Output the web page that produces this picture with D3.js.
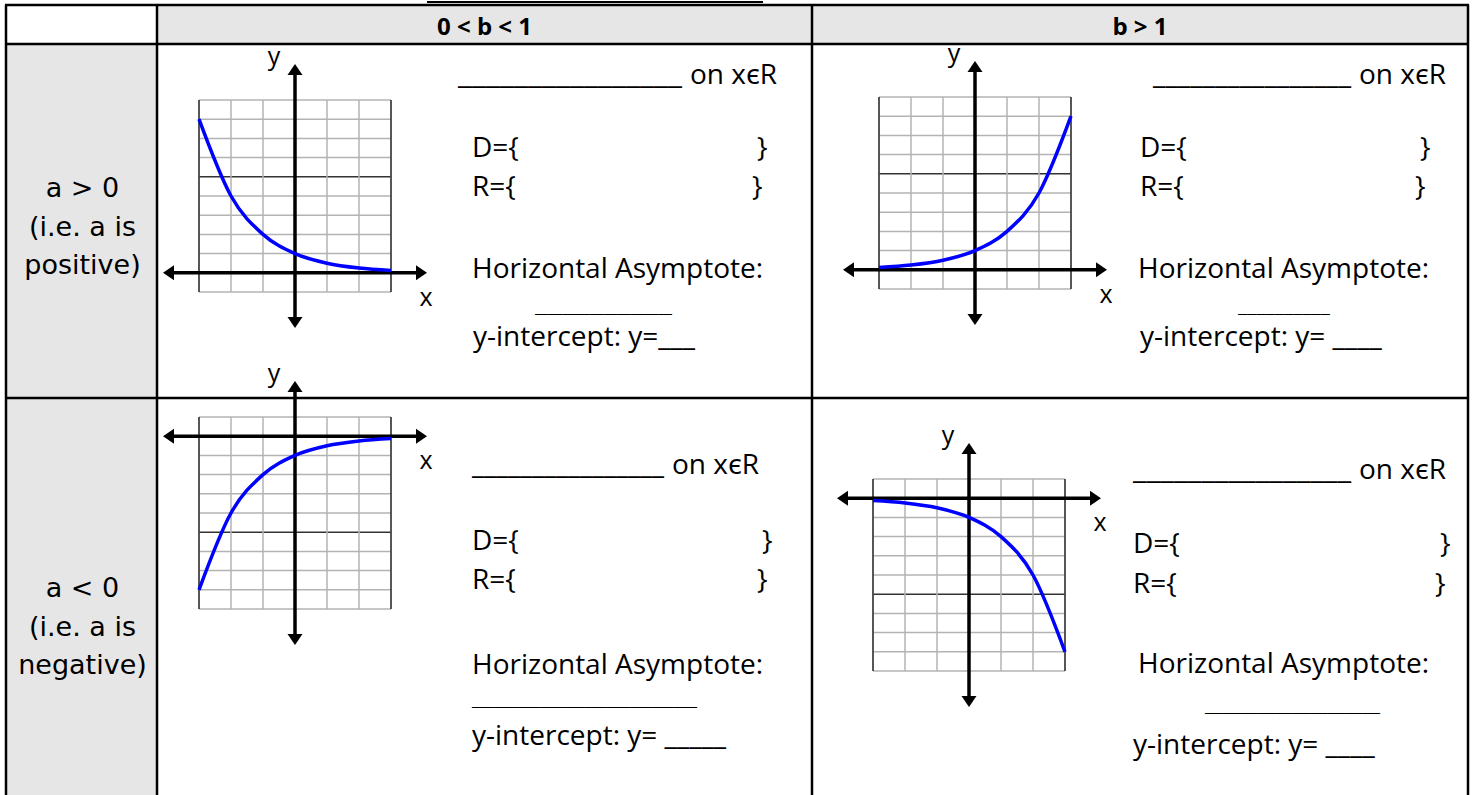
<!DOCTYPE html>
<html>
<head>
<meta charset="utf-8">
<script src="https://cdn.jsdelivr.net/npm/d3@7"></script>
<style>
  body { margin: 0; background: #fff; }
  svg { display: block; font-family: "Open Sans", "Noto Sans", sans-serif; }
</style>
</head>
<body>
<svg id="chart" width="1473" height="795"></svg>
<script>
// table headers
var colHeaders = ["0 < b < 1", "b > 1"];
var rowHeaders = [["a > 0", "(i.e. a is", "positive)"], ["a < 0", "(i.e. a is", "negative)"]];

// points, x = -3 .. 3
var xValues = [-3, -2, -1, 0, 1, 2, 3];
var decayPos = [8, 4, 2, 1, 0.5, 0.25, 0.125];
var growthPos = [0.125, 0.25, 0.5, 1, 2, 4, 8];
var decayNeg = [-8, -4, -2, -1, -0.5, -0.25, -0.125];
var growthNeg = [-0.125, -0.25, -0.5, -1, -2, -4, -8];

// grid window of each row and its darker line
var yWindowPos = [-1, 9];
var yWindowNeg = [-9, 1];
var darkLines = [5, -5];

// prompt texts in every cell
var promptDomain = "D={";
var promptRange = "R={";
var promptClose = "}";
var promptOn = "on x\u03F5R";
var promptAsym = "Horizontal Asymptote:";
var promptIntercepts = ["y-intercept: y=___", "y-intercept: y= ____", "y-intercept: y= _____", "y-intercept: y= ____"];

var svg = d3.select("#chart");

// table frame
var tbl = { left: 6, c1: 157, c2: 812, right: 1468, top: 5, head: 44, mid: 398, bottom: 860 };
var grey = "#e6e6e6";

svg.append("rect").attr("x", tbl.c1).attr("y", tbl.top)
  .attr("width", tbl.right - tbl.c1).attr("height", tbl.head - tbl.top).attr("fill", grey);
svg.append("rect").attr("x", tbl.left).attr("y", tbl.head)
  .attr("width", tbl.c1 - tbl.left).attr("height", tbl.bottom - tbl.head).attr("fill", grey);

var hLines = [tbl.top, tbl.head, tbl.mid, tbl.bottom];
var vLines = [tbl.left, tbl.c1, tbl.c2, tbl.right];
svg.selectAll(".hline").data(hLines).enter().append("line")
  .attr("x1", tbl.left - 1).attr("x2", tbl.right + 1).attr("y1", function (d) { return d; }).attr("y2", function (d) { return d; })
  .attr("stroke", "#000").attr("stroke-width", 2.5);
svg.selectAll(".vline").data(vLines).enter().append("line")
  .attr("y1", tbl.top).attr("y2", tbl.bottom).attr("x1", function (d) { return d; }).attr("x2", function (d) { return d; })
  .attr("stroke", "#000").attr("stroke-width", 2.5);

// bit of the title line above the table
svg.append("line").attr("x1", 427).attr("x2", 763).attr("y1", 2).attr("y2", 2)
  .attr("stroke", "#000").attr("stroke-width", 2);

// column headers
svg.selectAll(".colhead").data(colHeaders).enter().append("text")
  .attr("x", function (d, i) { return i === 0 ? (tbl.c1 + tbl.c2) / 2 : (tbl.c2 + tbl.right) / 2; })
  .attr("y", 35).attr("text-anchor", "middle")
  .attr("font-size", 24).attr("font-weight", "bold").text(function (d) { return d; });

// row headers
var rowTop = [197, 597];
rowHeaders.forEach(function (lines, r) {
  svg.selectAll(".rowhead" + r).data(lines).enter().append("text")
    .attr("x", (tbl.left + tbl.c1) / 2 + 1).attr("y", function (d, i) { return rowTop[r] + i * 38.5; })
    .attr("text-anchor", "middle").attr("font-family", "'DejaVu Sans', Verdana, sans-serif")
    .attr("font-size", 27).text(function (d) { return d; });
});

// little exponential graphs
function drawGraph(box, yWindow, values, dark) {
  var g = svg.append("g");
  var size = 192, ext = 36;
  var x = d3.scaleLinear().domain([-3, 3]).range([box.x, box.x + size]);
  var y = d3.scaleLinear().domain(yWindow).range([box.y + size, box.y]);

  var xs = d3.range(-3, 4);
  var ys = d3.range(yWindow[0], yWindow[1] + 1);
  g.selectAll(".gy").data(ys).enter().append("line")
    .attr("x1", x(-3)).attr("x2", x(3))
    .attr("y1", function (d) { return y(d); }).attr("y2", function (d) { return y(d); })
    .attr("stroke", function (d) { return d === dark ? "#333" : "#b3b3b3"; })
    .attr("stroke-width", function (d) { return d === dark ? 1.6 : 1.5; });
  g.selectAll(".gx").data(xs).enter().append("line")
    .attr("y1", y(yWindow[0])).attr("y2", y(yWindow[1]))
    .attr("x1", function (d) { return x(d); }).attr("x2", function (d) { return x(d); })
    .attr("stroke", function (d) { return Math.abs(d) === 3 ? "#444" : "#b3b3b3"; })
    .attr("stroke-width", function (d) { return Math.abs(d) === 3 ? 1.8 : 1.5; });

  // axes with arrow heads
  var x0 = x(0), y0 = y(0);
  var xa = x.range()[0] - ext, xb = x.range()[1] + ext;
  var ya = y.range()[1] - ext, yb = y.range()[0] + ext;
  var head = 11, half = 7.5;
  g.append("line").attr("x1", xa + 4).attr("x2", xb - 4).attr("y1", y0).attr("y2", y0)
    .attr("stroke", "#000").attr("stroke-width", 3.5);
  g.append("line").attr("x1", x0).attr("x2", x0).attr("y1", ya + 4).attr("y2", yb - 4)
    .attr("stroke", "#000").attr("stroke-width", 3.5);
  var heads = [
    [[xa, y0], [xa + head, y0 - half], [xa + head, y0 + half]],
    [[xb, y0], [xb - head, y0 - half], [xb - head, y0 + half]],
    [[x0, ya], [x0 - half, ya + head], [x0 + half, ya + head]],
    [[x0, yb], [x0 - half, yb - head], [x0 + half, yb - head]]
  ];
  g.selectAll(".head").data(heads).enter().append("path")
    .attr("d", function (d) { return "M" + d.join("L") + "Z"; }).attr("fill", "#000");

  g.append("text").attr("x", x0 - 21).attr("y", ya + 1).attr("text-anchor", "middle")
    .attr("font-size", 25).text("y");
  g.append("text").attr("x", xb - 1).attr("y", y0 + 33).attr("text-anchor", "middle")
    .attr("font-size", 25).text("x");

  // the curve
  var line = d3.line()
    .x(function (d, i) { return x(xValues[i]); })
    .y(function (d) { return y(d); })
    .curve(d3.curveMonotoneX);
  g.append("path").datum(values).attr("d", line)
    .attr("fill", "none").attr("stroke", "#0000ff").attr("stroke-width", 3.5);
}

drawGraph({ x: 199, y: 100 }, yWindowPos, decayPos, darkLines[0]);
drawGraph({ x: 879, y: 97 }, yWindowPos, growthPos, darkLines[0]);
drawGraph({ x: 199, y: 417 }, yWindowNeg, decayNeg, darkLines[1]);
drawGraph({ x: 873, y: 479 }, yWindowNeg, growthNeg, darkLines[1]);

// text prompts beside each graph
var cells = [
  { on: { x0: 458, x1: 682, tx: 690, y: 84 }, d: { x: 472, cx: 757, y: 157 }, r: { x: 472, cx: 752, y: 196 },
    asym: { x: 472, y: 278 }, blank: { x0: 535, x1: 672, y: 313 }, yint: { x: 473, y: 346 } },
  { on: { x0: 1153, x1: 1351, tx: 1359, y: 84 }, d: { x: 1140, cx: 1420, y: 157 }, r: { x: 1140, cx: 1415, y: 196 },
    asym: { x: 1138, y: 278 }, blank: { x0: 1238, x1: 1330, y: 313 }, yint: { x: 1140, y: 346 } },
  { on: { x0: 472, x1: 664, tx: 672, y: 474 }, d: { x: 472, cx: 762, y: 550 }, r: { x: 472, cx: 757, y: 589 },
    asym: { x: 472, y: 674 }, blank: { x0: 472, x1: 697, y: 706 }, yint: { x: 472, y: 745 } },
  { on: { x0: 1133, x1: 1351, tx: 1359, y: 479 }, d: { x: 1133, cx: 1440, y: 553 }, r: { x: 1133, cx: 1435, y: 593 },
    asym: { x: 1138, y: 673 }, blank: { x0: 1205, x1: 1380, y: 712 }, yint: { x: 1133, y: 754 } }
];

cells.forEach(function (c, i) {
  var t = svg.append("g").attr("font-size", 28).attr("fill", "#000");
  t.append("text").attr("x", c.on.x0).attr("y", c.on.y)
    .attr("textLength", c.on.x1 - c.on.x0).attr("lengthAdjust", "spacingAndGlyphs").text("________________");
  t.append("text").attr("x", c.on.tx).attr("y", c.on.y).text(promptOn);
  t.append("text").attr("x", c.d.x).attr("y", c.d.y).text(promptDomain);
  t.append("text").attr("x", c.d.cx).attr("y", c.d.y).text(promptClose);
  t.append("text").attr("x", c.r.x).attr("y", c.r.y).text(promptRange);
  t.append("text").attr("x", c.r.cx).attr("y", c.r.y).text(promptClose);
  t.append("text").attr("x", c.asym.x).attr("y", c.asym.y).text(promptAsym);
  // the short answer blank, smaller type so it stays clear of its neighbours
  t.append("text").attr("x", c.blank.x0).attr("y", c.blank.y).attr("font-size", 16)
    .attr("textLength", c.blank.x1 - c.blank.x0).attr("lengthAdjust", "spacingAndGlyphs").text("__________");
  t.append("text").attr("x", c.yint.x).attr("y", c.yint.y).text(promptIntercepts[i]);
});
</script>
</body>
</html>
